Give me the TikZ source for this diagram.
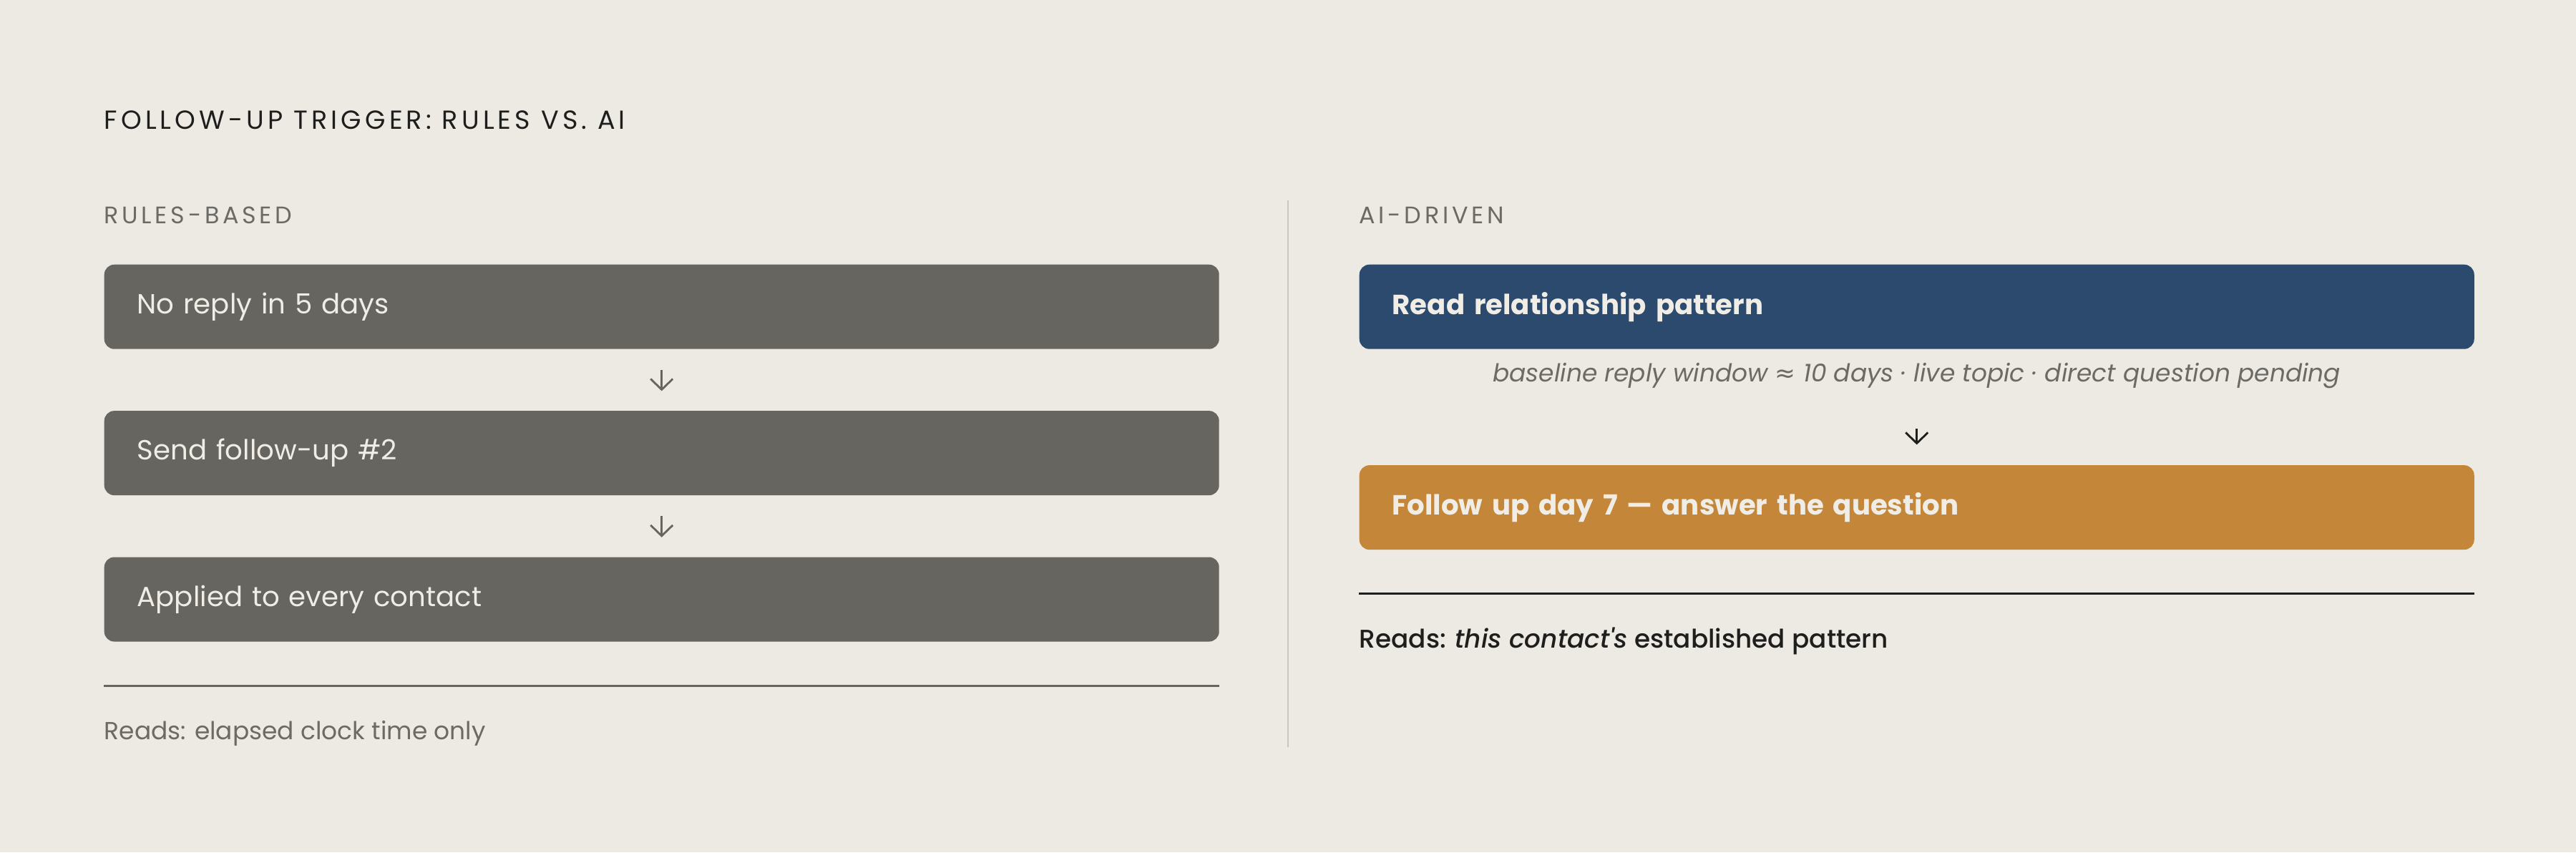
\documentclass[tikz,border=0pt]{standalone}
\usepackage{fontspec}
\setmainfont{Poppins}
\newfontfamily\medfont{Poppins Medium}[ItalicFont={Poppins Medium Italic}]
\newfontfamily\symfont{DejaVu Sans}
\usepackage{xcolor}
\usetikzlibrary{positioning, arrows.meta}

\definecolor{bgcol}{HTML}{EDEAE4}
\definecolor{boxgray}{HTML}{66655F}
\definecolor{aiblue}{HTML}{2C4A6E}
\definecolor{aiorange}{HTML}{C4873A}
\definecolor{boxtext}{HTML}{F0EDE6}
\definecolor{ink}{HTML}{1E1E1C}
\definecolor{subgray}{HTML}{6B6A64}
\definecolor{divgray}{HTML}{C9C6BF}

\begin{document}
\begin{tikzpicture}[
    node distance=0.85cm,
    rulebox/.style={rectangle, fill=boxgray, text=boxtext, rounded corners=0.14cm, text width=14.66cm, inner xsep=0.46cm, minimum height=1.18cm, align=left, font=\fontsize{11}{13}\selectfont},
    aibox/.style={rulebox, fill=aiblue, font=\fontsize{11}{13}\selectfont\bfseries},
    heading/.style={anchor=base west, inner sep=0pt, text=ink, font=\fontsize{10.4}{12}\selectfont\addfontfeature{LetterSpace=14}},
    colhead/.style={anchor=base west, inner sep=0pt, text=subgray, font=\fontsize{9.5}{11}\selectfont\addfontfeature{LetterSpace=14}},
    note/.style={inner sep=0pt, text=subgray, font=\fontsize{9.8}{12}\selectfont\itshape},
    reads/.style={anchor=base west, inner sep=0pt, font=\fontsize{9.8}{12}\selectfont},
    arrow/.style={-{Straight Barb[length=1.5mm, width=3.1mm]}, line width=0.8pt, draw=boxgray},
    rulegray/.style={line width=0.8pt, draw=boxgray},
    ruledark/.style={line width=0.8pt, draw=ink}
]

% Background
\fill[bgcol] (0,0) rectangle (36,-11.91);

% Title
\node[heading] (title) at (1.45,-1.80) {FOLLOW-UP TRIGGER: RULES VS. AI};

% Rules-based column
\node[colhead] (rulehead) at (1.45,-3.12) {RULES-BASED};
\node[rulebox, anchor=north west] (noreply) at (1.45,-3.69) {No reply in 5 days};
\node[rulebox, below=of noreply] (send) {Send follow-up \#2};
\node[rulebox, below=of send] (applied) {Applied to every contact};

\coordinate[below=0.61cm of applied.south west] (ruleL);
\draw[rulegray] (ruleL) -- (ruleL -| applied.east);
\node[reads, text=subgray, below=0.75cm of ruleL, anchor=base west] (readsL) {Reads: elapsed clock time only};

% Divider
\coordinate (divtop) at (18.00,-2.80);
\coordinate (divbot) at (18.00,-10.44);
\draw[line width=0.6pt, divgray] (divtop) -- (divbot);

% AI-driven column
\node[colhead] (aihead) at (18.99,-3.12) {AI-DRIVEN};
\node[aibox, anchor=north west] (pattern) at (18.99,-3.69) {Read relationship pattern};
\node[note, below=0.18cm of pattern] (signals) {baseline reply window {\symfont\itshape ≈} 10 days · live topic · direct question pending};
\node[aibox, fill=aiorange, below=1.61cm of pattern] (followup) {Follow up day 7 — answer the question};

\coordinate[below=0.61cm of followup.south west] (ruleR);
\draw[ruledark] (ruleR) -- (ruleR -| followup.east);
\node[reads, text=ink, below=0.76cm of ruleR, anchor=base west, font=\fontsize{10.2}{12}\selectfont] (readsR) {\medfont Reads: \textit{this contact's} established pattern};

% Arrows
\draw[arrow, shorten <=0.29cm, shorten >=0.27cm] (noreply) -- (send);
\draw[arrow, shorten <=0.28cm, shorten >=0.27cm] (send) -- (applied);
\draw[arrow, draw=ink, shorten <=0.56cm, shorten >=0.28cm] (signals) -- (followup);

\end{tikzpicture}
\end{document}
